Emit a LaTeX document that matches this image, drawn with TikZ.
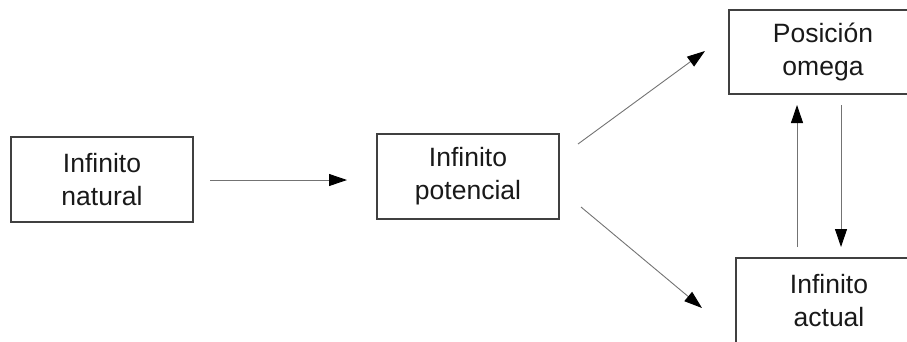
\documentclass[tikz,border=0pt]{standalone}
\usepackage{fontspec}
\setmainfont{Liberation Sans}
\usetikzlibrary{arrows.meta}
\begin{document}
\begin{tikzpicture}[x=1pt,y=-1pt,
  box/.style={draw=black!75, line width=1.1pt, rectangle, align=center,
    font=\fontsize{26.5}{33}\selectfont, text=black!90, inner sep=0pt},
  conn/.style={draw=black!55, line width=0.9pt,
    -{Triangle[length=18pt,width=12pt,fill=black,color=black]}}]
\useasboundingbox (0,0) rectangle (907,341);
\clip (0,0) rectangle (907,341);
\node[box, minimum width=182pt, minimum height=85pt] (nat) at (102,179.5) {Infinito\\natural};
\node[box, minimum width=182pt, minimum height=85pt] (pot) at (468,176.5) {Infinito\\potencial};
\node[box, minimum width=188pt, minimum height=84pt] (ome) at (823,52) {Posición\\omega};
\node[box, minimum width=186pt, minimum height=85pt] (act) at (829,300.5) {Infinito\\actual};
\coordinate (a1) at (210,180);
\coordinate (a2) at (347,180);
\coordinate (b1) at (578,144);
\coordinate (b2) at (705,51);
\coordinate (c1) at (581,207);
\coordinate (c2) at (702,308);
\coordinate (d1) at (797,247);
\coordinate (d2) at (797,105);
\coordinate (e1) at (841,105);
\coordinate (e2) at (841,247);
\draw[conn] (a1) -- (a2);
\draw[conn] (b1) -- (b2);
\draw[conn] (c1) -- (c2);
\draw[conn] (d1) -- (d2);
\draw[conn] (e1) -- (e2);
\end{tikzpicture}
\end{document}
